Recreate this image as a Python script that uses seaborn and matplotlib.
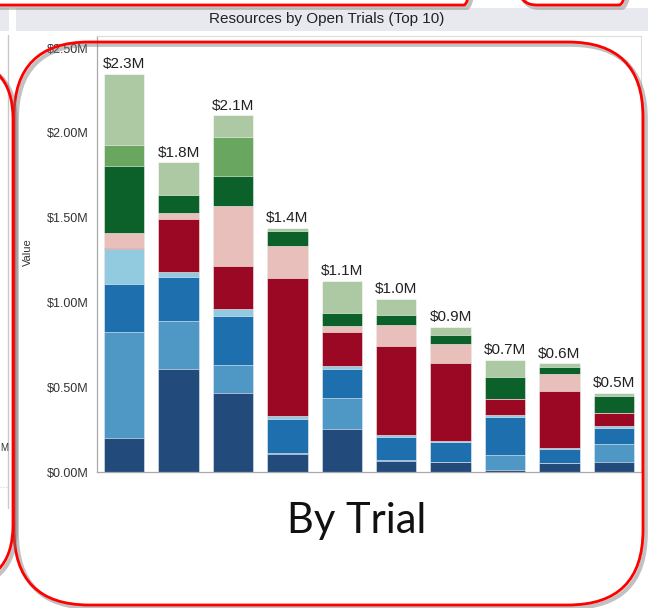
import numpy as np
import pandas as pd
import matplotlib
matplotlib.use("Agg")
import matplotlib.pyplot as plt
import matplotlib.patheffects as pe
from matplotlib.patches import FancyBboxPatch, Rectangle
import seaborn as sns

# === данные (чтение с картинки, млн $) ===
trials = [f"Trial {i}" for i in range(1, 11)]
segments = ["S1", "S2", "S3", "S4", "S5", "S6", "S7", "S8", "S9"]
seg_colors = ["#224b7c", "#4f98c6", "#1d6fae", "#92cbe0", "#9b0824",
              "#e9bfbc", "#0b6129", "#69a761", "#adc9a4"]

s1_dark_blue = [0.200, 0.607, 0.464, 0.108, 0.252, 0.067, 0.061, 0.012, 0.051, 0.059]
s2_mid_blue = [0.627, 0.285, 0.165, 0.005, 0.184, 0.005, 0.000, 0.088, 0.005, 0.106]
s3_blue = [0.280, 0.256, 0.291, 0.198, 0.171, 0.133, 0.117, 0.226, 0.078, 0.094]
s4_light_blue = [0.208, 0.033, 0.041, 0.019, 0.020, 0.011, 0.005, 0.010, 0.005, 0.012]
s5_red = [0.006, 0.309, 0.255, 0.816, 0.197, 0.529, 0.462, 0.096, 0.340, 0.078]
s6_pink = [0.090, 0.035, 0.354, 0.188, 0.037, 0.124, 0.112, 0.000, 0.098, 0.000]
s7_dark_green = [0.395, 0.110, 0.177, 0.087, 0.075, 0.059, 0.049, 0.126, 0.043, 0.098]
s8_mid_green = [0.125, 0.000, 0.230, 0.000, 0.000, 0.000, 0.000, 0.000, 0.000, 0.000]
s9_light_green = [0.415, 0.191, 0.126, 0.019, 0.192, 0.092, 0.051, 0.101, 0.020, 0.020]

y_ticks = [0.0, 0.5, 1.0, 1.5, 2.0, 2.5]

values = np.array([s1_dark_blue, s2_mid_blue, s3_blue, s4_light_blue, s5_red,
                   s6_pink, s7_dark_green, s8_mid_green, s9_light_green])
cum = values.cumsum(axis=0)
totals = cum[-1]

df = pd.DataFrame({"trial": trials})
for k, seg in enumerate(segments):
    df[seg] = cum[k]

sns.set_style("white")
plt.rcParams["font.family"] = ["Liberation Sans", "DejaVu Sans"]

W, H = 648, 608
fig = plt.figure(figsize=(W / 100, H / 100), dpi=100)

# фон: серые полосы и рамки соседних панелей
bg = fig.add_axes([0, 0, 1, 1], zorder=0)
bg.set_xlim(0, W)
bg.set_ylim(H, 0)
bg.axis("off")
bg.add_patch(Rectangle((16, 8), W - 16, 23, color="#e8e9ee", lw=0))
bg.add_patch(Rectangle((0, 8), 9, 23, color="#e8e9ee", lw=0))
bg.plot([8, 8], [35, 508], color="#c8c8c8", lw=1)
bg.plot([0, 8], [487, 487], color="#d0d0d0", lw=0.8, ls=":")
bg.text(0, 448, "M", ha="left", va="center", fontsize=7, color="#333333")
bg.text(327, 19, "Resources by Open Trials (Top 10)", ha="center", va="center",
        fontsize=11, color="#222222")
bg.text(28, 252, "Value", rotation=90, ha="center", va="center", fontsize=8,
        color="#333333")
bg.text(357, 521, "By Trial", ha="center", va="center", fontsize=30,
        family=["Lato", "DejaVu Sans"], color="#111111")

# основной график
left, right, top, bottom = 97, 641, 36, 472
ax = fig.add_axes([left / W, (H - bottom) / H, (right - left) / W, (bottom - top) / H],
                  zorder=5)
ax.set_facecolor("white")
for k in range(len(segments) - 1, -1, -1):
    sns.barplot(data=df, x="trial", y=segments[k], color=seg_colors[k], width=0.74,
                errorbar=None, saturation=1, edgecolor=(1, 1, 1, 0.55),
                linewidth=0.7, ax=ax)

for i, t in enumerate(totals):
    ax.annotate(f"${t:.1f}M", (i, t), xytext=(0, 2), textcoords="offset points",
                ha="center", va="bottom", fontsize=11, color="#222222")

ax.set_xlim(-0.5, len(trials) - 0.5)
ax.set_ylim(0, (bottom - top) / 169.6)
ax.set_yticks(y_ticks)
ax.set_yticklabels([f"${v:.2f}M" for v in y_ticks], fontsize=9, color="#333333")
ax.set_xticks(np.arange(-0.5, len(trials), 1.0))
ax.set_xticklabels([])
ax.set_xlabel("")
ax.set_ylabel("")
ax.tick_params(axis="y", direction="out", length=4, width=0.8, color="#aaaaaa", pad=2)
ax.tick_params(axis="x", direction="out", length=5, width=0.8, color="#bbbbbb")
for side in ["left", "bottom"]:
    ax.spines[side].set_color("#aaaaaa")
    ax.spines[side].set_linewidth(0.9)
for side in ["top", "right"]:
    ax.spines[side].set_color("#dddddd")
    ax.spines[side].set_linewidth(0.8)

# красные скруглённые рамки поверх
fg = fig.add_axes([0, 0, 1, 1], zorder=10)
fg.set_xlim(0, W)
fg.set_ylim(H, 0)
fg.axis("off")
fg.patch.set_alpha(0)
shadow = [pe.SimpleLineShadow(offset=(2, -2), shadow_color="#777777", alpha=0.45,
                              linewidth=3),
          pe.Normal()]
boxes = [
    (14, 42, 629, 563, 75),
    (-400, 59, 413, 526, 60),
    (-300, -300, 778, 305, 14),
    (519, -300, 118, 305, 18),
]
for x0, y0, w, h, r in boxes:
    fg.add_patch(FancyBboxPatch((x0, y0), w, h, boxstyle=f"round,pad=0,rounding_size={r}",
                                fill=False, edgecolor="#ff0000", lw=2,
                                path_effects=shadow))

fig.savefig("out.png", dpi=100)
